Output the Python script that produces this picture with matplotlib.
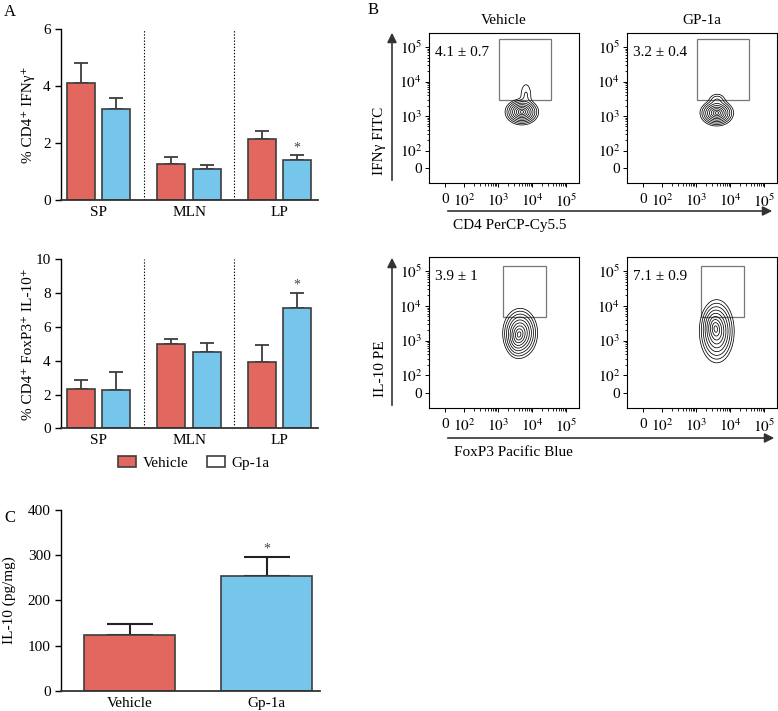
import numpy as np
import matplotlib
matplotlib.use('Agg')
import matplotlib.pyplot as plt
from matplotlib.patches import Patch, Rectangle, FancyArrowPatch

plt.rcParams['font.family'] = ['Liberation Serif', 'DejaVu Serif']
plt.rcParams['mathtext.fontset'] = 'stix'
plt.rcParams['font.size'] = 11

W, H = 778, 711
red = '#E2675F'
blue = '#76C5EB'
edge = '#3d3d3d'

# panel A
groups = ['SP', 'MLN', 'LP']
ifng_vehicle = [4.1, 1.26, 2.15]
ifng_vehicle_err = [0.7, 0.26, 0.27]
ifng_gp1a = [3.2, 1.11, 1.40]
ifng_gp1a_err = [0.4, 0.14, 0.17]
ifng_sig = [False, False, True]
il10_vehicle = [2.32, 5.0, 3.9]
il10_vehicle_err = [0.52, 0.26, 1.0]
il10_gp1a = [2.28, 4.54, 7.1]
il10_gp1a_err = [1.05, 0.48, 0.9]
il10_sig = [False, False, True]

# panel C
c_groups = ['Vehicle', 'Gp-1a']
c_values = [123, 254]
c_err = [26, 42]
c_sig = [False, True]

# panel B (positions in log10 units, 0 drawn at ~1.5)
flow_titles = ['Vehicle', 'GP-1a']
ifng_stats = ['4.1 ± 0.7', '3.2 ± 0.4']
il10_stats = ['3.9 ± 1', '7.1 ± 0.9']
ifng_gate = (3.03, 3.48, 4.56, 5.25)
il10_gate = (3.15, 3.68, 4.41, 5.16)
# populations: cx, cy, sx, sy, weight
ifng_pops = [
    [(3.70, 3.12, 0.17, 0.13, 1.0), (3.82, 3.6, 0.10, 0.22, 0.04)],
    [(3.61, 3.09, 0.17, 0.13, 1.0), (3.62, 3.45, 0.12, 0.10, 0.08)],
]
il10_pops = [
    [(3.65, 3.22, 0.18, 0.25, 1.0), (3.55, 3.05, 0.12, 0.2, 0.3)],
    [(3.61, 3.27, 0.18, 0.32, 1.0), (3.52, 3.45, 0.12, 0.2, 0.3)],
]
flow_ticks = ['0', '$10^2$', '$10^3$', '$10^4$', '$10^5$']


def px(x0, y0, x1, y1):
    return [x0 / W, 1 - y1 / H, (x1 - x0) / W, (y1 - y0) / H]


def ftext(x, y, s, **kw):
    fig.text(x / W, 1 - y / H, s, **kw)


def arrow(x0, y0, x1, y1):
    a = FancyArrowPatch((x0 / W, 1 - y0 / H), (x1 / W, 1 - y1 / H),
                        transform=fig.transFigure, arrowstyle='-|>',
                        mutation_scale=14, lw=1.2, color='#333333')
    fig.add_artist(a)


def style_bar_axes(ax):
    for s in ['top', 'right']:
        ax.spines[s].set_visible(False)
    ax.spines['left'].set_linewidth(1.0)
    ax.spines['bottom'].set_linewidth(1.3)
    ax.spines['bottom'].set_color('#333333')
    ax.tick_params(axis='x', length=0, pad=4, labelsize=11)
    ax.tick_params(axis='y', length=4, width=1, labelsize=11)


def bar_panel(ax, veh, veh_err, gp, gp_err, sig, ymax, yticks, ylabel):
    x = np.arange(len(groups))
    off, w = 0.195, 0.31
    ax.bar(x - off, veh, w, color=red, edgecolor=edge, lw=1.2, zorder=2)
    ax.bar(x + off, gp, w, color=blue, edgecolor=edge, lw=1.2, zorder=2)
    ax.errorbar(x - off, veh, yerr=[np.zeros(len(x)), veh_err], fmt='none',
                ecolor=edge, elinewidth=1.3, capsize=5, capthick=1.3, zorder=1)
    ax.errorbar(x + off, gp, yerr=[np.zeros(len(x)), gp_err], fmt='none',
                ecolor=edge, elinewidth=1.3, capsize=5, capthick=1.3, zorder=1)
    for i, s in enumerate(sig):
        if s:
            ax.annotate('*', (x[i] + off, gp[i] + gp_err[i]), xytext=(0, 1),
                        textcoords='offset points', ha='center', va='bottom',
                        fontsize=10, color='#444444')
    for b in [0.5, 1.5]:
        ax.axvline(b, color='k', lw=0.8, ls=(0, (1.2, 1.6)))
    ax.set_xlim(-0.42, 2.43)
    ax.set_ylim(0, ymax)
    ax.set_yticks(yticks)
    ax.set_xticks(x)
    ax.set_xticklabels(groups)
    ax.set_ylabel(ylabel, fontsize=11)
    ax.yaxis.set_label_coords(-0.103, 0.5)
    style_bar_axes(ax)


fig = plt.figure(figsize=(W / 100, H / 100), dpi=100)

ax1 = fig.add_axes(px(61, 29, 318, 200.3))
bar_panel(ax1, ifng_vehicle, ifng_vehicle_err, ifng_gp1a, ifng_gp1a_err,
          ifng_sig, 6, [0, 2, 4, 6], '% CD4⁺ IFNγ⁺')

ax2 = fig.add_axes(px(61, 259.3, 318, 428.3))
bar_panel(ax2, il10_vehicle, il10_vehicle_err, il10_gp1a, il10_gp1a_err,
          il10_sig, 10, [0, 2, 4, 6, 8, 10], '% CD4⁺ FoxP3⁺ IL-10⁺')

handles = [Patch(facecolor=red, edgecolor=edge, lw=1.2),
           Patch(facecolor='white', edgecolor=edge, lw=1.2)]
fig.legend(handles, ['Vehicle', 'Gp-1a'], ncol=2, frameon=False,
           loc='center', bbox_to_anchor=(194 / W, 1 - 463 / H),
           handlelength=1.15, handleheight=0.75, columnspacing=1.25,
           handletextpad=0.45, fontsize=11)

# panel C
ax3 = fig.add_axes(px(61, 509.8, 320, 691))
xc = np.arange(len(c_groups))
ax3.bar(xc, c_values, 0.67, color=[red, blue], edgecolor=edge, lw=1.2, zorder=2)
ax3.errorbar(xc, c_values, yerr=[np.zeros(len(xc)), c_err], fmt='none',
             ecolor='#222222', elinewidth=1.5, capsize=16.5, capthick=1.5, zorder=1)
for i, s in enumerate(c_sig):
    if s:
        ax3.annotate('*', (xc[i], c_values[i] + c_err[i]), xytext=(0, 1),
                     textcoords='offset points', ha='center', va='bottom',
                     fontsize=10, color='#444444')
ax3.set_xlim(-0.5, 1.39)
ax3.set_ylim(0, 400)
ax3.set_yticks([0, 100, 200, 300, 400])
ax3.set_xticks(xc)
ax3.set_xticklabels(c_groups)
ax3.set_ylabel('IL-10 (pg/mg)', fontsize=11)
ax3.yaxis.set_label_coords(-0.175, 0.5)
style_bar_axes(ax3)

# panel B
xlim = (0.97, 5.38)
ylim = (1.06, 5.41)
gx = np.linspace(xlim[0], xlim[1], 400)
gy = np.linspace(ylim[0], ylim[1], 400)
X, Y = np.meshgrid(gx, gy)
minor = np.log10([k * 10.0 ** d for d in (2, 3, 4) for k in range(2, 10)])
radii = np.linspace(0.3, 2.9, 9)


def flow_panel(rect, pops, gate, stat):
    ax = fig.add_axes(rect)
    Z = np.zeros_like(X)
    for cx, cy, sx, sy, w in pops:
        Z += w * np.exp(-0.5 * (((X - cx) / sx) ** 2 + ((Y - cy) / sy) ** 2))
    levels = np.sort(Z.max() * np.exp(-0.5 * radii ** 2))
    ax.contour(X, Y, Z, levels=levels, colors='k', linewidths=0.55)
    x0, y0, x1, y1 = gate
    ax.add_patch(Rectangle((x0, y0), x1 - x0, y1 - y0, fill=False,
                           ec='#777777', lw=0.9))
    ax.text(0.04, 0.87, stat, transform=ax.transAxes, fontsize=11, va='center')
    ax.set_xlim(xlim)
    ax.set_ylim(ylim)
    ax.set_xticks([1.45, 2, 3, 4, 5])
    ax.set_xticklabels(flow_ticks)
    ax.set_yticks([1.5, 2, 3, 4, 5])
    ax.set_yticklabels(flow_ticks)
    ax.set_xticks(minor, minor=True)
    ax.set_yticks(minor, minor=True)
    ax.tick_params(which='major', length=3, width=0.7, labelsize=11, pad=2)
    ax.tick_params(which='minor', length=1.8, width=0.6)
    ax.tick_params(axis='x', pad=4)
    for s in ax.spines.values():
        s.set_linewidth(0.8)
    return ax


for j, left in enumerate([429, 627]):
    flow_panel(px(left, 33, left + 150, 183), ifng_pops[j], ifng_gate, ifng_stats[j])
    flow_panel(px(left, 257, left + 150, 408), il10_pops[j], il10_gate, il10_stats[j])
    ftext(left + 75, 21, flow_titles[j], ha='center', va='center', fontsize=11)

arrow(392, 183, 392, 30)
arrow(392, 408, 392, 255)
arrow(445, 211, 775, 211)
arrow(445, 438, 777, 438)
ftext(380, 141, 'IFNγ FITC', rotation=90, ha='center', va='center', fontsize=11)
ftext(380, 369, 'IL-10 PE', rotation=90, ha='center', va='center', fontsize=11)
ftext(453, 226, 'CD4 PerCP-Cy5.5', ha='left', va='center', fontsize=11)
ftext(454, 453, 'FoxP3 Pacific Blue', ha='left', va='center', fontsize=11)

ftext(4, 12, 'A', fontsize=12, va='center')
ftext(368, 10, 'B', fontsize=12, va='center')
ftext(4, 518, 'C', fontsize=12, va='center')

fig.savefig('out.png', dpi=100)
